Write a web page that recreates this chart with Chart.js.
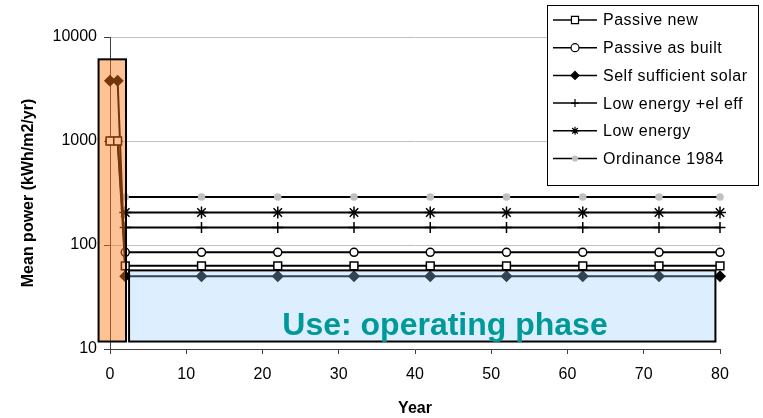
<!DOCTYPE html>
<html>
<head>
<meta charset="utf-8">
<title>Mean power over building life</title>
<script src="https://cdn.jsdelivr.net/npm/chart.js@4"></script>
<style>
  html, body { margin: 0; padding: 0; background: #ffffff; }
  #wrap { width: 763px; height: 418px; }
</style>
</head>
<body>
<div id="wrap"><canvas id="c" width="763" height="418"></canvas></div>
<script>
// Years at which the mean power is sampled
const years = [0, 1, 2, 12, 22, 32, 42, 52, 62, 72, 80];

// Mean power per scenario, kWh/m2/yr (construction years 0-1, then operation)
const passiveNew   = [1000, 1000, 63, 63, 63, 63, 63, 63, 63, 63, 63];
const passiveBuilt = [1000, 1000, 85, 85, 85, 85, 85, 85, 85, 85, 85];
const solar        = [3800, 3800, 50, 50, 50, 50, 50, 50, 50, 50, 50];
const lowEnergyEl  = [null, null, 147, 147, 147, 147, 147, 147, 147, 147, 147];
const lowEnergy    = [null, null, 205, 205, 205, 205, 205, 205, 205, 205, 205];
const ordinance    = [null, null, 290, 290, 290, 290, 290, 290, 290, 290, 290];

const seriesNames = ['Passive new', 'Passive as built', 'Self sufficient solar',
                     'Low energy +el eff', 'Low energy', 'Ordinance 1984'];

const yTickValues = [10, 100, 1000, 10000];
const xTickStep = 10;

// Phase boxes in data units: [year from, year to, power from, power to]
const buildPhase = [-1.5, 2.1, 11.8, 6100];
const usePhase   = [2.5, 79.4, 11.8, 57];
const usePhaseLabel = 'Use: operating phase';

const FONT = "'Liberation Sans', Arial, sans-serif";

function pts(values) {
  return years.map((x, i) => ({ x: x, y: values[i] }));
}

const styles = [
  { pointStyle: 'rect',    radius: 5.5, fill: '#ffffff', stroke: '#000000' },
  { pointStyle: 'circle',  radius: 4,   fill: '#ffffff', stroke: '#000000' },
  { pointStyle: 'rectRot', radius: 5,   fill: '#000000', stroke: '#000000' },
  { pointStyle: 'cross',   radius: 5.5, fill: '#000000', stroke: '#000000' },
  { pointStyle: 'star',    radius: 6,   fill: '#000000', stroke: '#000000' },
  { pointStyle: 'circle',  radius: 3,   fill: '#c0c0c0', stroke: '#c0c0c0' }
];

const seriesValues = [passiveNew, passiveBuilt, solar, lowEnergyEl, lowEnergy, ordinance];

const datasets = seriesValues.map((vals, i) => ({
  label: seriesNames[i],
  data: pts(vals),
  borderColor: '#000000',
  borderWidth: 2,
  pointStyle: styles[i].pointStyle,
  pointRadius: styles[i].radius,
  pointBackgroundColor: styles[i].fill,
  pointBorderColor: styles[i].stroke,
  pointBorderWidth: 1.5,
  tension: 0,
  fill: false,
  clip: false
}));

// Simple marker painter used by the legend
function drawMarker(ctx, s, x, y, r) {
  ctx.save();
  ctx.fillStyle = s.fill;
  ctx.strokeStyle = s.stroke;
  ctx.lineWidth = 1.2;
  ctx.beginPath();
  if (s.pointStyle === 'rect') {
    const h = r * Math.SQRT1_2;
    ctx.rect(x - h, y - h, 2 * h, 2 * h);
    ctx.fill(); ctx.stroke();
  } else if (s.pointStyle === 'circle') {
    ctx.arc(x, y, r, 0, Math.PI * 2);
    ctx.fill(); ctx.stroke();
  } else if (s.pointStyle === 'rectRot') {
    ctx.moveTo(x, y - r); ctx.lineTo(x + r, y); ctx.lineTo(x, y + r); ctx.lineTo(x - r, y);
    ctx.closePath(); ctx.fill(); ctx.stroke();
  } else if (s.pointStyle === 'cross') {
    ctx.moveTo(x, y - r); ctx.lineTo(x, y + r);
    ctx.moveTo(x - r, y); ctx.lineTo(x + r, y);
    ctx.stroke();
  } else if (s.pointStyle === 'star') {
    const d = r * Math.SQRT1_2;
    ctx.moveTo(x, y - r); ctx.lineTo(x, y + r);
    ctx.moveTo(x - r, y); ctx.lineTo(x + r, y);
    ctx.moveTo(x - d, y - d); ctx.lineTo(x + d, y + d);
    ctx.moveTo(x - d, y + d); ctx.lineTo(x + d, y - d);
    ctx.stroke();
  }
  ctx.restore();
}

// Translucent phase boxes laid over the series, plus the phase caption
const phaseBoxes = {
  id: 'phaseBoxes',
  afterDatasetsDraw(chart) {
    const { ctx, scales: { x, y } } = chart;
    const box = (b, fill) => {
      const l = x.getPixelForValue(b[0]);
      const r = x.getPixelForValue(b[1]);
      const t = y.getPixelForValue(b[3]);
      const btm = y.getPixelForValue(b[2]);
      ctx.save();
      ctx.fillStyle = fill;
      ctx.fillRect(l, t, r - l, btm - t);
      ctx.lineWidth = 2;
      ctx.strokeStyle = '#000000';
      ctx.strokeRect(l, t, r - l, btm - t);
      ctx.restore();
      return { l, r, t, btm };
    };
    box(buildPhase, 'rgba(255,120,20,0.45)');
    box(usePhase, 'rgba(153,204,255,0.33)');
    ctx.save();
    ctx.font = "bold 32px " + FONT;
    ctx.fillStyle = '#009999';
    ctx.textAlign = 'center';
    ctx.textBaseline = 'alphabetic';
    ctx.fillText(usePhaseLabel, 445, 335);
    ctx.restore();
  }
};

// Boxed legend in the upper right corner
const boxLegend = {
  id: 'boxLegend',
  afterDraw(chart) {
    const { ctx } = chart;
    const left = 547, top = 5, w = 211, h = 180;
    ctx.save();
    ctx.fillStyle = '#ffffff';
    ctx.fillRect(left, top, w, h);
    ctx.strokeStyle = '#000000';
    ctx.lineWidth = 1;
    ctx.strokeRect(left + 0.5, top + 0.5, w, h);
    ctx.font = "16px " + FONT;
    if ('letterSpacing' in ctx) ctx.letterSpacing = '0.5px';
    ctx.textBaseline = 'middle';
    ctx.textAlign = 'left';
    chart.data.datasets.forEach((ds, i) => {
      const cy = 20 + i * 27.7;
      ctx.beginPath();
      ctx.strokeStyle = '#000000';
      ctx.lineWidth = 1.5;
      ctx.moveTo(553, cy);
      ctx.lineTo(597, cy);
      ctx.stroke();
      const s = styles[i];
      drawMarker(ctx, s, 575, cy, s.pointStyle === 'circle' && i === 5 ? 2.5 : (s.pointStyle === 'rect' ? 5 : 4));
      ctx.fillStyle = '#000000';
      ctx.fillText(ds.label, 603, cy + 1);
    });
    ctx.restore();
  }
};

new Chart(document.getElementById('c'), {
  type: 'line',
  data: { datasets: datasets },
  options: {
    responsive: false,
    animation: false,
    layout: { padding: { left: 0, right: 43, top: 37, bottom: 0 } },
    plugins: {
      legend: { display: false },
      tooltip: { enabled: false }
    },
    scales: {
      x: {
        type: 'linear',
        min: 0,
        max: 80,
        ticks: {
          stepSize: xTickStep,
          color: '#000000',
          font: { family: FONT, size: 16 },
          padding: 11,
          maxRotation: 0
        },
        grid: {
          drawOnChartArea: false,
          drawTicks: true,
          tickLength: 5,
          tickColor: '#404040'
        },
        border: { color: '#404040', width: 1 },
        title: {
          display: true,
          text: 'Year',
          color: '#000000',
          font: { family: FONT, size: 16, weight: 'bold' },
          padding: { top: 0, bottom: 0 }
        },
        afterFit(scale) { scale.height = 69; }
      },
      y: {
        type: 'logarithmic',
        min: 10,
        max: 10000,
        afterBuildTicks(scale) {
          scale.ticks = yTickValues.map(v => ({ value: v, major: true }));
        },
        ticks: {
          color: '#000000',
          font: { family: FONT, size: 16 },
          padding: 7,
          autoSkip: false,
          callback: v => String(v)
        },
        grid: {
          color: '#c0c0c0',
          lineWidth: 1,
          tickLength: 6,
          tickColor: '#404040'
        },
        border: { color: '#404040', width: 1 },
        title: {
          display: true,
          text: 'Mean power (kWh/m2/yr)',
          color: '#000000',
          font: { family: FONT, size: 16, weight: 'bold' },
          padding: { top: 19, bottom: 0 }
        },
        afterFit(scale) { scale.width = 110; }
      }
    }
  },
  plugins: [phaseBoxes, boxLegend]
});
</script>
</body>
</html>
